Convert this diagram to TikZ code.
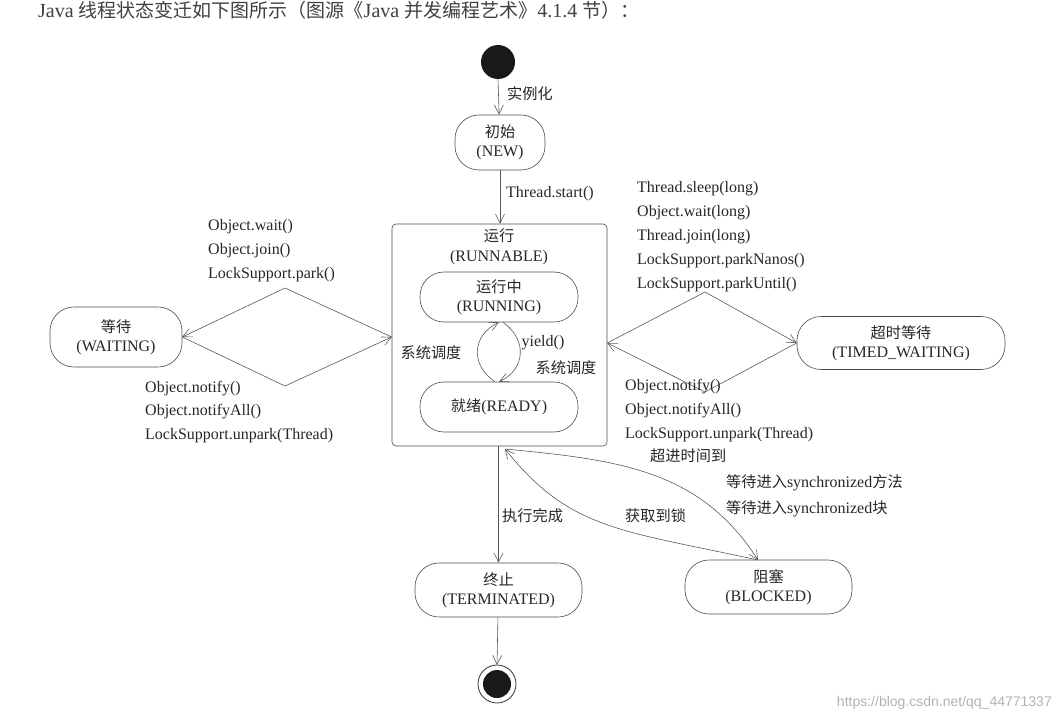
\documentclass[tikz,border=0pt]{standalone}
\usepackage{fontspec}
\setmainfont{Liberation Serif}
\newfontfamily\cjk{Noto Sans CJK SC}[Scale=0.95]
\newfontfamily\wm{Liberation Sans}
\newcommand{\zh}[1]{{\cjk #1}}
\usetikzlibrary{arrows.meta}
\begin{document}
\begin{tikzpicture}[x=1pt,y=-1pt,
  txt/.style={font=\fontsize{16}{19}\selectfont,inner sep=0pt,text=black!85},
  lab/.style={txt,anchor=west,align=left},
  st/.style={draw=black!70,rounded corners=24pt,line width=0.6pt,txt,align=center},
  ar/.style={draw=black!65,line width=0.6pt,-{Straight Barb[length=9pt,width=9pt]}}]
\useasboundingbox (0,0) rectangle (1059,722);
\clip (0,0) rectangle (1059,722);
\node[txt,anchor=west,font=\fontsize{20}{24}\selectfont,text=black!75] (title) at (38,10) {Java \zh{线程状态变迁如下图所示（图源《}Java \zh{并发编程艺术》}4.1.4 \zh{节）：}};
\fill[black!90] (498,62) circle (17);
\coordinate (start) at (498,79);
\node[st,minimum width=90pt,minimum height=55pt] (new) at (500,142.5) {\zh{初始}\\(NEW)};
\draw[ar] (start) -- (new);
\node[lab] (l1) at (507,94) {\zh{实例化}};
\node[draw=black!70,line width=0.6pt,rounded corners=4pt,minimum width=215pt,minimum height=222pt] (runnable) at (499.5,335) {};
\node[txt] (rt) at (499,236) {\zh{运行}};
\node[txt] (rt2) at (499,258) {(RUNNABLE)};
\draw[ar] (new) -- (runnable.north-|new);
\node[lab] (l2) at (506,194) {Thread.start()};
\node[st,minimum width=158pt,minimum height=50pt] (running) at (499,297) {\zh{运行中}\\(RUNNING)};
\node[st,minimum width=158pt,minimum height=50pt] (ready) at (499,407) {\zh{就绪}(READY)};
\draw[ar] (ready.north) ++(-4,0) coordinate (a1) .. controls (470,365) and (472,335) .. (running.south);
\draw[ar] (running.south) ++(4,0) coordinate (a2) .. controls (528,340) and (525,370) .. (ready.north);
\node[txt] (s1) at (431,353) {\zh{系统调度}};
\node[txt] (s2) at (543,343) {yield()};
\node[txt] (s3) at (566,368) {\zh{系统调度}};
% waiting
\node[st,minimum width=132pt,minimum height=60pt] (waiting) at (116,337) {\zh{等待}\\(WAITING)};
\draw[ar] (runnable.west|-waiting) -- (285,288) -- (waiting.east);
\draw[ar] (waiting.east) -- (285,386) -- (runnable.west|-waiting);
\node[lab] (w1) at (208,227) {Object.wait()};
\node[lab] (w2) at (208,251) {Object.join()};
\node[lab] (w3) at (208,275) {LockSupport.park()};
\node[lab] (w4) at (145,389) {Object.notify()};
\node[lab] (w5) at (145,412) {Object.notifyAll()};
\node[lab] (w6) at (145,436) {LockSupport.unpark(Thread)};
% timed
\node[st,minimum width=208pt,minimum height=53pt] (timed) at (901,343) {\zh{超时等待}\\(TIMED\_WAITING)};
\draw[ar] (runnable.east|-timed) -- (705,292) -- (timed.west);
\draw[ar] (timed.west) -- (705,392) -- (runnable.east|-timed);
\node[lab] (t1) at (637,189) {Thread.sleep(long)};
\node[lab] (t2) at (637,213) {Object.wait(long)};
\node[lab] (t3) at (637,237) {Thread.join(long)};
\node[lab] (t4) at (637,261) {LockSupport.parkNanos()};
\node[lab] (t5) at (637,285) {LockSupport.parkUntil()};
\node[lab] (t6) at (625,387) {Object.notify()};
\node[lab] (t7) at (625,411) {Object.notifyAll()};
\node[lab] (t8) at (625,435) {LockSupport.unpark(Thread)};
% terminated
\node[st,minimum width=167pt,minimum height=54pt] (term) at (498.5,590) {\zh{终止}\\(TERMINATED)};
\draw[ar] (runnable.south-|term) -- (term);
\node[lab] (l3) at (502,516) {\zh{执行完成}};
\draw[black!80,line width=0.8pt] (497,684) circle (19);
\fill[black!90] (497,684) circle (14);
\coordinate (end) at (497,665);
\draw[ar] (term) -- (end);
% blocked
\node[st,minimum width=167pt,minimum height=54pt] (blocked) at (768.5,587) {\zh{阻塞}\\(BLOCKED)};
\coordinate (rb) at (505,449);
\coordinate (bt) at (758,560);
\draw[ar] (rb) .. controls (620,460) and (700,470) .. (bt);
\draw[ar] (bt) .. controls (620,530) and (570,530) .. (rb);
\node[lab] (b1) at (650,456) {\zh{超进时间到}};
\node[lab] (b2) at (726,483) {\zh{等待进入}synchronized\zh{方法}};
\node[lab] (b3) at (726,509) {\zh{等待进入}synchronized\zh{块}};
\node[lab] (b4) at (625,516) {\zh{获取到锁}};
\node[anchor=east,inner sep=0pt,font=\wm\fontsize{14}{16}\selectfont,text=black!30] (wm) at (1052,703) {https://blog.csdn.net/qq\_44771337};
\end{tikzpicture}
\end{document}
